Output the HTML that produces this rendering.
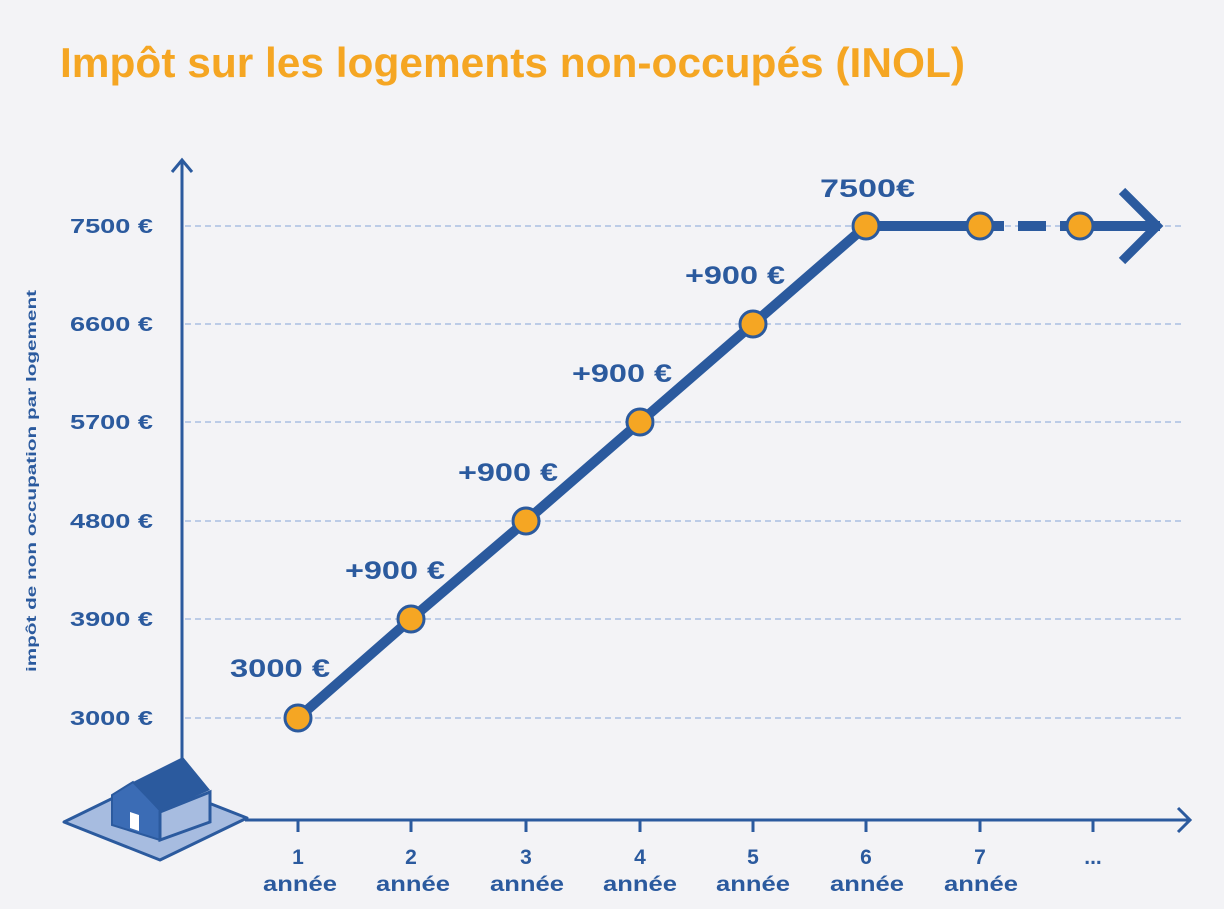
<!DOCTYPE html>
<html><head><meta charset="utf-8"><style>
html,body{margin:0;padding:0;background:#f3f3f6;}
svg{display:block;font-family:"Liberation Sans",sans-serif;font-weight:bold;}
</style></head><body>
<svg width="1224" height="909" viewBox="0 0 1224 909">
<rect width="1224" height="909" fill="#f3f3f6"/>
<text x="60" y="77" font-size="42" fill="#f5a623" textLength="905" lengthAdjust="spacingAndGlyphs">Impôt sur les logements non-occupés (INOL)</text>
<g stroke="#a9bfe2" stroke-width="1.5" stroke-dasharray="6,4">
<line x1="185" y1="226" x2="1185" y2="226"/>
<line x1="185" y1="324" x2="1185" y2="324"/>
<line x1="185" y1="422" x2="1185" y2="422"/>
<line x1="185" y1="521" x2="1185" y2="521"/>
<line x1="185" y1="619" x2="1185" y2="619"/>
<line x1="185" y1="718" x2="1185" y2="718"/>
</g>
<g fill="#2b5a9e" font-size="20">
<text x="70" y="233" textLength="83" lengthAdjust="spacingAndGlyphs">7500 €</text>
<text x="70" y="331" textLength="83" lengthAdjust="spacingAndGlyphs">6600 €</text>
<text x="70" y="429" textLength="83" lengthAdjust="spacingAndGlyphs">5700 €</text>
<text x="70" y="528" textLength="83" lengthAdjust="spacingAndGlyphs">4800 €</text>
<text x="70" y="626" textLength="83" lengthAdjust="spacingAndGlyphs">3900 €</text>
<text x="70" y="725" textLength="83" lengthAdjust="spacingAndGlyphs">3000 €</text>
</g>
<text transform="translate(36,672) rotate(-90)" font-size="14" fill="#2b5a9e" textLength="382" lengthAdjust="spacingAndGlyphs">impôt de non occupation par logement</text>
<g stroke="#2b5a9e" stroke-width="3" fill="none">
<line x1="182" y1="160" x2="182" y2="762"/>
<polyline points="172,172 182,160 192,172"/>
<line x1="245" y1="820" x2="1190" y2="820"/>
<polyline points="1178,808 1190,820 1178,832"/>
<line x1="298" y1="820" x2="298" y2="832"/><line x1="411" y1="820" x2="411" y2="832"/><line x1="526" y1="820" x2="526" y2="832"/><line x1="640" y1="820" x2="640" y2="832"/><line x1="753" y1="820" x2="753" y2="832"/><line x1="866" y1="820" x2="866" y2="832"/><line x1="980" y1="820" x2="980" y2="832"/><line x1="1093" y1="820" x2="1093" y2="832"/>
</g>
<g fill="#2b5a9e" font-size="21" text-anchor="middle">
<text x="298" y="864">1</text><text x="300" y="891" textLength="74" lengthAdjust="spacingAndGlyphs">année</text>
<text x="411" y="864">2</text><text x="413" y="891" textLength="74" lengthAdjust="spacingAndGlyphs">année</text>
<text x="526" y="864">3</text><text x="527" y="891" textLength="74" lengthAdjust="spacingAndGlyphs">année</text>
<text x="640" y="864">4</text><text x="640" y="891" textLength="74" lengthAdjust="spacingAndGlyphs">année</text>
<text x="753" y="864">5</text><text x="753" y="891" textLength="74" lengthAdjust="spacingAndGlyphs">année</text>
<text x="866" y="864">6</text><text x="867" y="891" textLength="74" lengthAdjust="spacingAndGlyphs">année</text>
<text x="980" y="864">7</text><text x="981" y="891" textLength="74" lengthAdjust="spacingAndGlyphs">année</text>
<text x="1093" y="864">...</text>
</g>
<!-- house -->
<polygon points="64,822 150,780 247,818 160,860" fill="#a7bce0" stroke="#2b5a9e" stroke-width="3" stroke-linejoin="round"/>
<polygon points="112,795 112,825 160,840 160,810 133,782" fill="#3b6cb5" stroke="#2b5a9e" stroke-width="2"/>
<polygon points="133,782 183,757 210,790 160,812" fill="#2b5a9e"/>
<polygon points="160,812 210,792 210,822 160,840" fill="#a7bce0" stroke="#2b5a9e" stroke-width="3"/>
<polygon points="130,812 139,815 139,831 130,828" fill="#fff"/>
<!-- series -->
<g stroke="#2b5a9e" stroke-width="10" fill="none">
<polyline points="298,718 411,619 526,521 640,422 753,324 866,226 1004,226"/>
<line x1="1018" y1="226" x2="1046" y2="226"/>
<line x1="1060" y1="226" x2="1160" y2="226"/>
<polyline points="1122,191 1157,226 1122,261" stroke-width="9"/>
</g>
<g fill="#f5a623" stroke="#2b5a9e" stroke-width="3">
<circle cx="298" cy="718" r="13"/><circle cx="411" cy="619" r="13"/><circle cx="526" cy="521" r="13"/><circle cx="640" cy="422" r="13"/><circle cx="753" cy="324" r="13"/><circle cx="866" cy="226" r="13"/><circle cx="980" cy="226" r="13"/><circle cx="1080" cy="226" r="13"/>
</g>
<g fill="#2b5a9e" font-size="25">
<text x="230" y="677" textLength="100" lengthAdjust="spacingAndGlyphs">3000 €</text>
<text x="345" y="579" textLength="100" lengthAdjust="spacingAndGlyphs">+900 €</text>
<text x="458" y="481" textLength="100" lengthAdjust="spacingAndGlyphs">+900 €</text>
<text x="572" y="382" textLength="100" lengthAdjust="spacingAndGlyphs">+900 €</text>
<text x="685" y="284" textLength="100" lengthAdjust="spacingAndGlyphs">+900 €</text>
<text x="820" y="197" textLength="95" lengthAdjust="spacingAndGlyphs">7500€</text>
</g>
</svg>
</body></html>
